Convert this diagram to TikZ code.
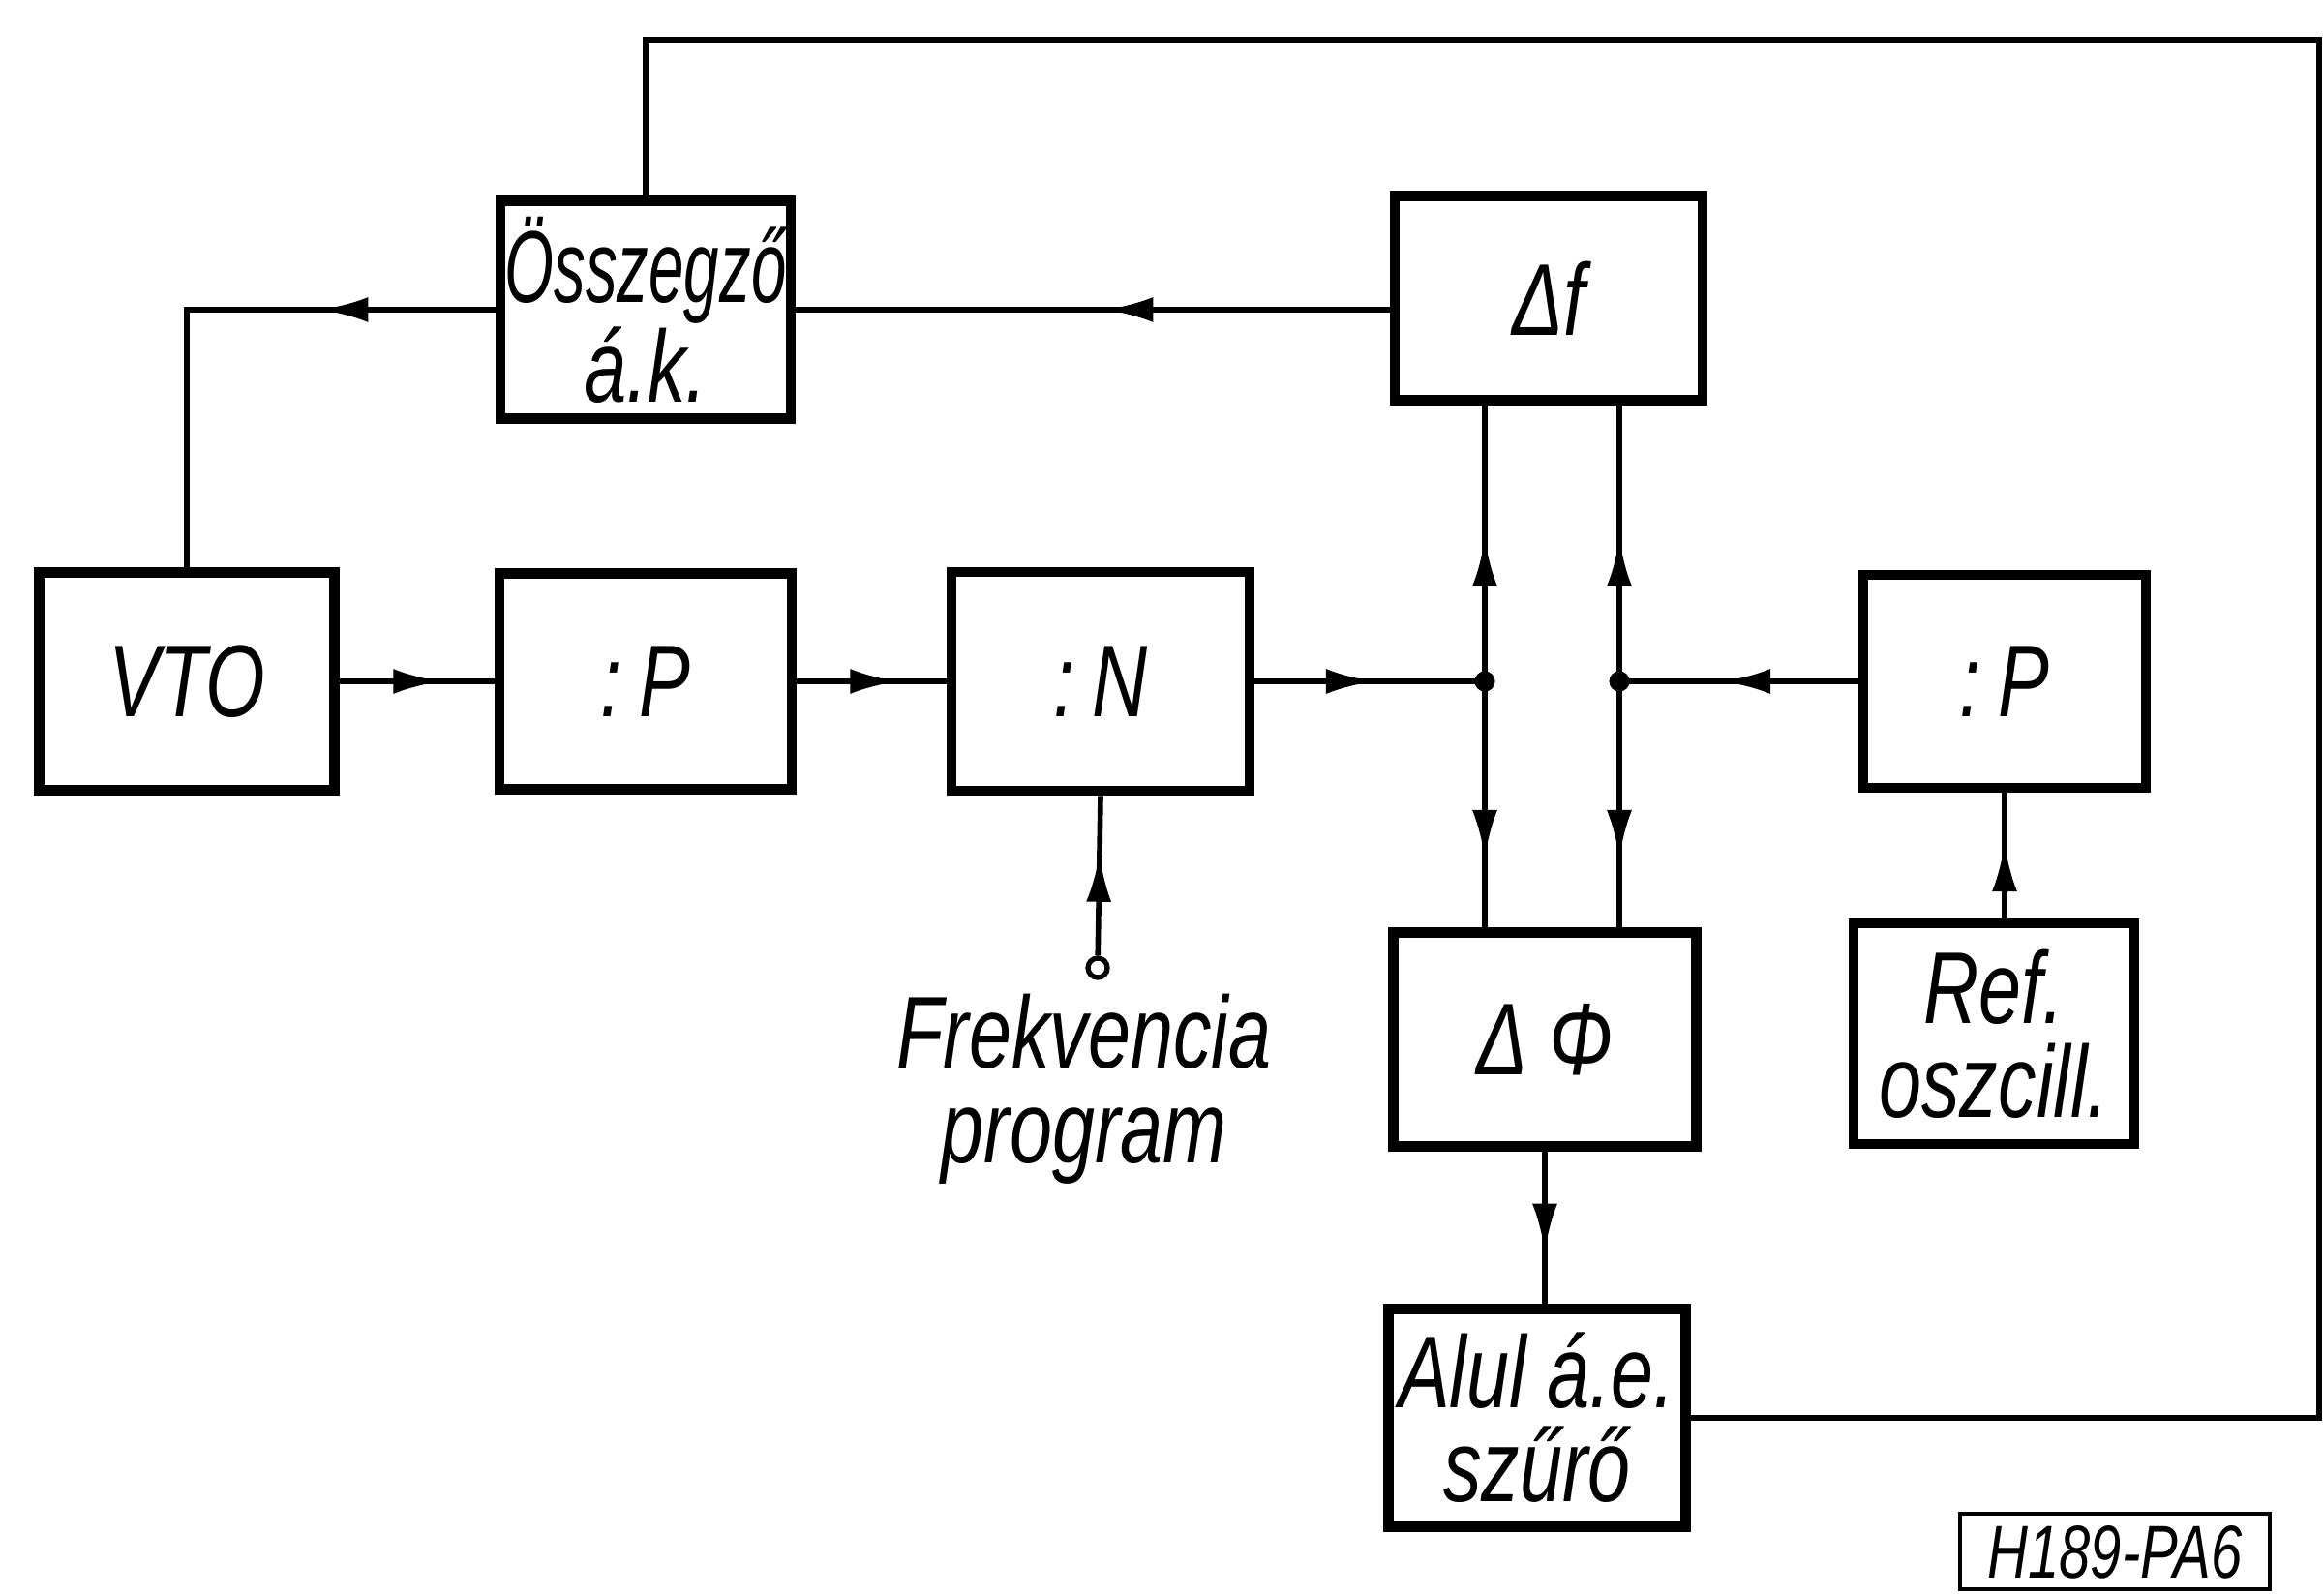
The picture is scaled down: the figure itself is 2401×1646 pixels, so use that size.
\documentclass[tikz,border=0pt]{standalone}
\usepackage{fontspec}
\setmainfont{Liberation Sans}[FakeStretch=0.75]
\newfontfamily\tightsans{Liberation Sans}[FakeStretch=0.62]
\usetikzlibrary{arrows.meta,decorations.markings}

\tikzset{
  block/.style={draw, line width=3pt, inner sep=0pt, align=center,
    font=\fontsize{30}{27.5}\selectfont\itshape},
  wire/.style={line width=1.6pt},
  midarrow/.style={postaction={decorate}, decoration={markings,
    mark=at position #1 with {\arrow{Latex[length=5mm,width=2.6mm]}}}},
}

\begin{document}
\begin{tikzpicture}[x=0.01cm, y=-0.01cm]
  \useasboundingbox (0,0) rectangle (2401,1646);
  \node[block, minimum width=3.05cm, minimum height=2.25cm] (vto) at (193,704) {VTO};
  \node[block, minimum width=3.02cm, minimum height=2.23cm] (pa) at (667,704) {:\,P};
  \node[block, minimum width=3.08cm, minimum height=2.26cm] (nbox) at (1137,704) {:\,N};
  \node[block, minimum width=3.0cm, minimum height=2.25cm] (sum) at (667,320) {{\tightsans Összegző}\\á.k.};
  \node[block, minimum width=3.18cm, minimum height=2.11cm] (dfbox) at (1600,308) {Δf};
  \node[block, minimum width=2.92cm, minimum height=2.2cm] (pb) at (2071,704) {:\,P};
  \node[block, minimum width=3.13cm, minimum height=2.21cm] (dphi) at (1596,1074) {Δ Φ};
  \node[block, minimum width=2.9cm, minimum height=2.28cm] (ref) at (2060,1068) {Ref.\\oszcill.};
  \node[block, minimum width=3.07cm, minimum height=2.25cm] (alul) at (1588,1465) {Alul á.e.\\szűrő};
  \node[draw, circle, line width=1.5pt, inner sep=0pt, minimum size=0.2cm] (inp) at (1134,1000) {};
  \node[align=center, font=\fontsize{30}{28}\selectfont\itshape] (freq) at (1120,1125) {Frekvencia\\program};
  \node[draw, line width=1.2pt, minimum width=3.2cm, minimum height=0.74cm, text depth=0pt,
    font=\fontsize{22}{22}\selectfont\itshape] (code) at (2185,1603) {H189-PA6};
  \coordinate (jl) at (1534,704);
  \coordinate (jr) at (1673,704);
  \coordinate (corner) at (2396,41);
  \draw[wire, midarrow=0.66] (vto.east) -- (pa.west);
  \draw[wire, midarrow=0.68] (pa.east) -- (nbox.west);
  \draw[wire, midarrow=0.52] (nbox.east) -- (jl);
  \draw[wire, midarrow=0.57] (pb.west) -- (jr);
  \draw[wire, midarrow=0.52] (jl) -- (jl |- dfbox.south);
  \draw[wire, midarrow=0.52] (jr) -- (jr |- dfbox.south);
  \draw[wire, midarrow=0.72] (jl) -- (jl |- dphi.north);
  \draw[wire, midarrow=0.72] (jr) -- (jr |- dphi.north);
  \draw[wire, midarrow=0.6] (pb.south |- ref.north) -- (pb.south);
  \draw[wire, midarrow=0.66] (dphi.south) -- (dphi.south |- alul.north);
  \draw[wire, midarrow=0.48] (dfbox.west |- sum.east) -- (sum.east);
  \draw[wire, midarrow=0.31] (sum.west) -| (vto.north);
  \draw[wire, midarrow=0.64] (inp) -- (nbox.south);
  \draw[wire] (alul.east) -| (corner) -| (sum.north);
  \fill (jl) circle (3pt);
  \fill (jr) circle (3pt);
\end{tikzpicture}
\end{document}
